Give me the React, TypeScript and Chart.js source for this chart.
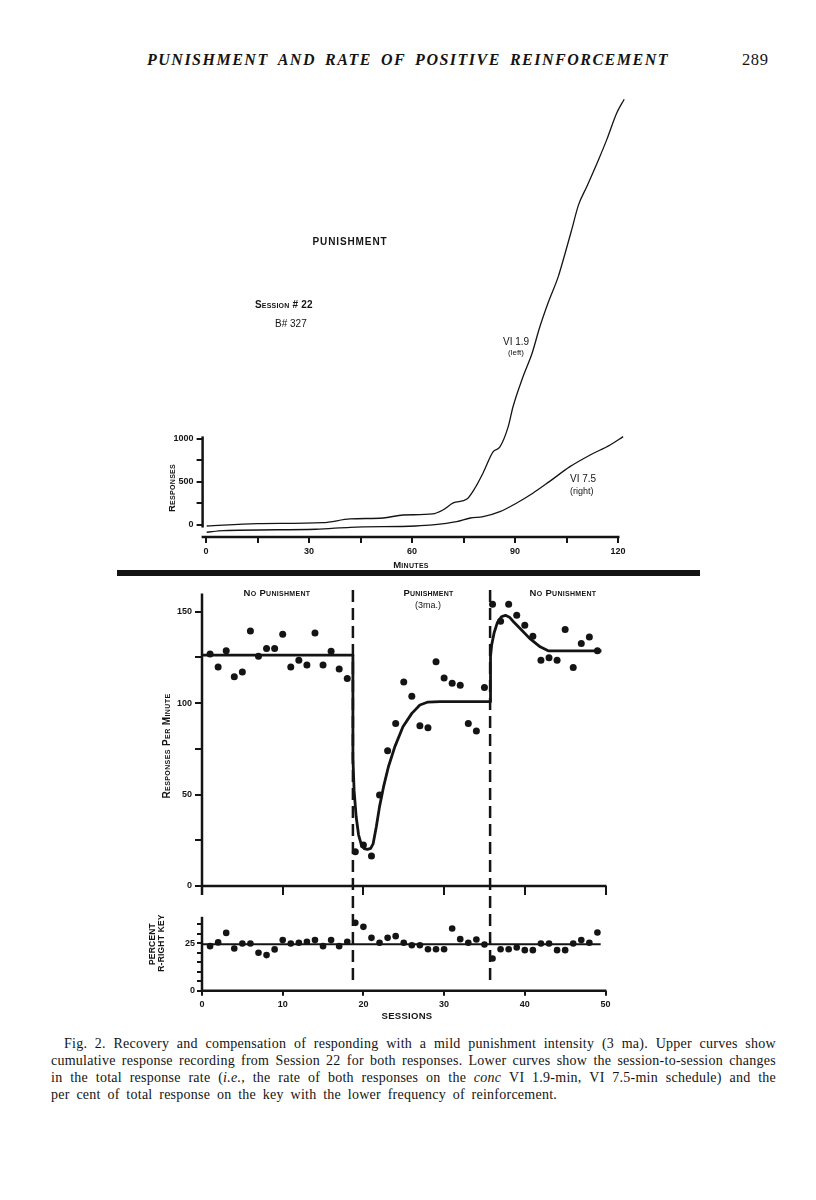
import React, { useEffect, useRef } from "react";
import { Chart, registerables } from "chart.js";

Chart.register(...registerables);

// ---------- Upper panel: cumulative record, Session 22 ----------
const minutesVI19 = [0.2, 14.8, 34, 42, 51.6, 57.4, 66, 69, 72, 76, 78, 80.7, 83.6, 85.6, 88, 89.4, 92.3, 95, 97.1, 99.7, 102.6, 104.6, 106.5, 108.5, 110.9, 114.3, 116.7, 119.6, 121.8];
const responsesVI19 = [-12, 15, 27, 70, 81, 116, 128, 174, 256, 302, 407, 605, 849, 907, 1140, 1372, 1721, 2000, 2288, 2590, 2888, 3160, 3431, 3722, 3934, 4245, 4478, 4788, 4951];
const minutesVI75 = [0.2, 5, 32, 42, 61, 66, 73, 77, 80.7, 85.6, 90.5, 95.3, 100, 106, 111.9, 117.7, 121.5];
const responsesVI75 = [-85, -66, -50, -27, -12, 0, 38, 81, 97, 155, 256, 372, 504, 678, 814, 930, 1027];
const minuteTicks = [0, 15, 30, 45, 60, 75, 90, 105, 120];
const minuteTickLabels = [0, 30, 60, 90, 120];
const responseTicks = [0, 250, 500, 750, 1000];
const responseTickLabels = [0, 500, 1000];

// ---------- Middle panel: responses per minute by session ----------
const sessions = [1, 2, 3, 4, 5, 6, 7, 8, 9, 10, 11, 12, 13, 14, 15, 16, 17, 18, 19, 20, 21, 22, 23, 24, 25, 26, 27, 28, 29, 30, 31, 32, 33, 34, 35, 36, 37, 38, 39, 40, 41, 42, 43, 44, 45, 46, 47, 48, 49];
const responsesPerMinute = [126.8, 119.8, 128.6, 114.4, 117, 139.5, 125.7, 129.9, 129.9, 137.7, 119.8, 123.5, 120.8, 138.4, 120.8, 128.4, 118.7, 113.5, 18.7, 22.4, 16.4, 49.7, 73.9, 88.9, 111.6, 103.8, 87.6, 86.5, 122.6, 113.8, 110.8, 109.8, 88.9, 84.7, 108.6, 154.1, 144.8, 154.1, 148.1, 142.6, 136.6, 123.5, 124.8, 123.5, 140.3, 119.5, 132.6, 136.2, 128.6];
const rateFitSessions = [0, 18.7, 18.7, 18.85, 19.1, 19.4, 19.75, 20.1, 20.5, 20.9, 21.2, 21.6, 22.0, 22.5, 23.1, 23.9, 24.9, 26.0, 27.0, 28.0, 29.5, 35.7, 35.75, 35.9, 36.2, 36.6, 37.1, 37.6, 38.1, 38.6, 39.6, 40.6, 41.9, 42.9, 49.5];
const rateFitValues = [126.3, 126.3, 70, 52, 38, 28, 22.5, 20.4, 20, 20.6, 23, 32.4, 43.4, 54.3, 65.2, 76.2, 87.1, 94.4, 99, 100.6, 100.8, 100.8, 125.4, 132, 138.5, 144, 147.2, 148, 147, 144.5, 140, 135.4, 130.8, 128.6, 128.6];
const rateTicks = [0, 25, 50, 75, 100, 125, 150];
const rateTickLabels = [0, 50, 100, 150];
const sessionTicks = [0, 10, 20, 30, 40, 50];
const phaseBoundaries = [18.7, 35.7];

// ---------- Lower panel: percent of responses on right key ----------
const percentRightKey = [23.5, 25.5, 30.5, 22.3, 24.9, 24.9, 20, 18.8, 21.8, 26.7, 24.9, 25.3, 25.8, 26.7, 23.5, 26.7, 23.5, 25.8, 35.8, 33.7, 27.9, 25.3, 27.9, 28.8, 25.3, 24, 24, 21.9, 21.9, 21.9, 32.8, 27.2, 25.3, 27, 24.4, 17, 21.9, 21.9, 22.8, 21.4, 21.4, 24.9, 24.9, 21.4, 21.4, 24.9, 26.7, 25.3, 30.7];
const percentFitSessions = [0, 49.4];
const percentFitValues = [24.5, 24.5];
const percentTicks = [0, 5, 10, 15, 20, 25, 30, 35];
const percentTickLabels = [0, 25];

// ---------- styling ----------
const INK = "#141414";
const SANS = "'Liberation Sans', Arial, Helvetica, sans-serif";
const SERIF = "'Liberation Serif', 'DejaVu Serif', serif";
const HEAD_SERIF = "'Liberation Serif', 'DejaVu Serif', serif";
const tickFont = { family: SANS, size: 9, weight: "bold" as const };

const toXY = (xs: number[], ys: number[]) => xs.map((x, i) => ({ x, y: ys[i] }));

type AxisSpec = { min: number; max: number; ticks: number[]; labels: number[]; tickLength: number; padding: number; size: number };

function linearAxis(spec: AxisSpec, horizontal: boolean) {
  return {
    type: "linear",
    min: spec.min,
    max: spec.max,
    afterBuildTicks: (scale: any) => {
      scale.ticks = spec.ticks.map((v) => ({ value: v }));
    },
    afterFit: (scale: any) => {
      if (horizontal) scale.height = spec.size;
      else scale.width = spec.size;
    },
    grid: { display: true, drawOnChartArea: false, drawTicks: true, tickLength: spec.tickLength, color: INK, lineWidth: 2 },
    border: { display: false },
    ticks: {
      autoSkip: false,
      maxRotation: 0,
      minRotation: 0,
      padding: spec.padding,
      color: INK,
      font: tickFont,
      callback: (v: number) => (spec.labels.includes(v) ? String(v) : ""),
    },
  };
}

function baseOptions(x: AxisSpec, y: AxisSpec, padTop: number, padRight: number) {
  return {
    responsive: false,
    maintainAspectRatio: false,
    animation: false,
    events: [],
    layout: { padding: { top: padTop, right: padRight, left: 0, bottom: 0 } },
    plugins: { legend: { display: false }, tooltip: { enabled: false }, title: { display: false } },
    scales: { x: linearAxis(x, true), y: linearAxis(y, false) },
  };
}

function stroke(ctx: CanvasRenderingContext2D, x1: number, y1: number, x2: number, y2: number, w: number, dash?: number[], offset = 0) {
  ctx.save();
  ctx.strokeStyle = INK;
  ctx.lineWidth = w;
  ctx.lineCap = "butt";
  if (dash) {
    ctx.setLineDash(dash);
    ctx.lineDashOffset = offset;
  }
  ctx.beginPath();
  ctx.moveTo(x1, y1);
  ctx.lineTo(x2, y2);
  ctx.stroke();
  ctx.restore();
}

const DASH = [12, 6];

// ---------- chart configs ----------
const TOP = { left: 130, top: 60, width: 520, height: 520 };
const MID = { left: 130, top: 575, width: 500, height: 340 };
const BOT = { left: 130, top: 900, width: 500, height: 130 };

function topConfig(): any {
  return {
    type: "scatter",
    data: {
      datasets: [
        { data: toXY(minutesVI19, responsesVI19), showLine: true, borderColor: INK, borderWidth: 1.3, pointRadius: 0, cubicInterpolationMode: "monotone", clip: false },
        { data: toXY(minutesVI75, responsesVI75), showLine: true, borderColor: INK, borderWidth: 1.3, pointRadius: 0, cubicInterpolationMode: "monotone", clip: false },
      ],
    },
    options: baseOptions(
      { min: -1, max: 123, ticks: minuteTicks, labels: minuteTickLabels, tickLength: 6, padding: 3, size: 43 },
      { min: -140, max: 5200, ticks: responseTicks, labels: responseTickLabels, tickLength: 6, padding: 3, size: 72.6 },
      17.8,
      21.7
    ),
    plugins: [
      {
        id: "topAxes",
        afterDatasetsDraw(chart: any) {
          const ctx = chart.ctx;
          const { left, bottom } = chart.chartArea;
          const xs = chart.scales.x, ys = chart.scales.y;
          stroke(ctx, left, ys.getPixelForValue(1030), left, ys.getPixelForValue(-30), 2.5);
          stroke(ctx, left - 1, bottom, xs.getPixelForValue(120) + 1.5, bottom, 2.5);
        },
      },
    ],
  };
}

function midConfig(): any {
  return {
    type: "scatter",
    data: {
      datasets: [
        { data: toXY(sessions, responsesPerMinute), showLine: false, pointRadius: 3.5, pointBackgroundColor: INK, pointBorderWidth: 0, clip: false },
        { data: toXY(rateFitSessions, rateFitValues), showLine: true, borderColor: INK, borderWidth: 2.8, borderJoinStyle: "round", pointRadius: 0, tension: 0, clip: false },
      ],
    },
    options: baseOptions(
      { min: 0, max: 50, ticks: sessionTicks, labels: [], tickLength: 9, padding: 2, size: 29 },
      { min: 0, max: 160, ticks: rateTicks, labels: rateTickLabels, tickLength: 7, padding: 3, size: 72 },
      18.4,
      24.5
    ),
    plugins: [
      {
        id: "midAxes",
        beforeDatasetsDraw(chart: any) {
          const ctx = chart.ctx;
          const xs = chart.scales.x;
          phaseBoundaries.forEach((s) => {
            const px = xs.getPixelForValue(s);
            stroke(ctx, px, 590 - MID.top, px, 905 - MID.top, 2.5, DASH, 0);
          });
        },
        afterDatasetsDraw(chart: any) {
          const ctx = chart.ctx;
          const { left, top, bottom } = chart.chartArea;
          const xs = chart.scales.x;
          stroke(ctx, left, top, left, bottom + 9, 2.5);
          stroke(ctx, left - 1, bottom, xs.getPixelForValue(50) + 1, bottom, 2.5);
        },
      },
    ],
  };
}

function botConfig(): any {
  return {
    type: "scatter",
    data: {
      datasets: [
        { data: toXY(sessions, percentRightKey), showLine: false, pointRadius: 3.3, pointBackgroundColor: INK, pointBorderWidth: 0, clip: false },
        { data: toXY(percentFitSessions, percentFitValues), showLine: true, borderColor: INK, borderWidth: 2, pointRadius: 0, tension: 0, clip: false },
      ],
    },
    options: baseOptions(
      { min: 0, max: 50, ticks: sessionTicks, labels: sessionTicks, tickLength: 5, padding: 3, size: 39.3 },
      { min: 0, max: 39, ticks: percentTicks, labels: percentTickLabels, tickLength: 5, padding: 2, size: 72 },
      16.8,
      24.5
    ),
    plugins: [
      {
        id: "botAxes",
        beforeDatasetsDraw(chart: any) {
          const ctx = chart.ctx;
          const xs = chart.scales.x;
          phaseBoundaries.forEach((s) => {
            const px = xs.getPixelForValue(s);
            stroke(ctx, px, 905 - BOT.top, px, 980 - BOT.top, 2.5, DASH, 315);
          });
        },
        afterDatasetsDraw(chart: any) {
          const ctx = chart.ctx;
          const { left, top, bottom } = chart.chartArea;
          const xs = chart.scales.x;
          stroke(ctx, left, top, left, bottom, 2.5);
          stroke(ctx, left - 1, bottom, xs.getPixelForValue(50) + 1, bottom, 2.5);
        },
      },
    ],
  };
}

function ChartCanvas({ box, build }: { box: { left: number; top: number; width: number; height: number }; build: () => any }) {
  const ref = useRef<HTMLCanvasElement>(null);
  useEffect(() => {
    const chart = new Chart(ref.current as HTMLCanvasElement, build());
    return () => chart.destroy();
  }, []);
  return (
    <canvas
      ref={ref}
      width={box.width}
      height={box.height}
      style={{ position: "absolute", left: box.left, top: box.top, width: box.width, height: box.height }}
    />
  );
}

type LabelProps = {
  x: number;
  y: number;
  size?: number;
  weight?: number;
  sc?: boolean;
  rotate?: number;
  align?: "left" | "center" | "right";
  spacing?: number;
  family?: string;
  children: React.ReactNode;
};

function Label({ x, y, size = 10, weight = 700, sc = false, rotate = 0, align = "center", spacing = 0, family = SANS, children }: LabelProps) {
  const tx = align === "center" ? "-50%" : align === "right" ? "-100%" : "0";
  return (
    <div
      style={{
        position: "absolute",
        left: x,
        top: y,
        transform: `translate(${tx}, -50%) rotate(${rotate}deg)`,
        whiteSpace: "nowrap",
        fontSize: size,
        fontWeight: weight,
        fontVariant: sc ? "small-caps" : "normal",
        fontFamily: family,
        letterSpacing: spacing,
        lineHeight: 1,
        color: INK,
      }}
    >
      {children}
    </div>
  );
}

const CAPTION_SIZE = 14;
const CAPTION_SPACING = 0.25;

function JustifiedLine({ left, center, width, words }: { left: number; center: number; width: number; words: React.ReactNode[] }) {
  return (
    <div
      style={{
        position: "absolute",
        left,
        top: center - 8,
        width,
        height: 16,
        display: "flex",
        justifyContent: "space-between",
        fontFamily: SERIF,
        fontSize: CAPTION_SIZE,
        letterSpacing: CAPTION_SPACING,
        lineHeight: "16px",
        whiteSpace: "nowrap",
        color: INK,
      }}
    >
      {words.map((w, i) => (
        <span key={i}>{w}</span>
      ))}
    </div>
  );
}

const captionLine1 = "Fig. 2. Recovery and compensation of responding with a mild punishment intensity (3 ma). Upper curves show".split(" ");
const captionLine2 = "cumulative response recording from Session 22 for both responses. Lower curves show the session-to-session changes".split(" ");
const captionLine3: React.ReactNode[] = [
  "in", "the", "total", "response", "rate",
  <>(<i>i.e.</i>,</>,
  "the", "rate", "of", "both", "responses", "on", "the",
  <i>conc</i>,
  "VI", "1.9-min,", "VI", "7.5-min", "schedule)", "and", "the",
];
const captionLine4 = "per cent of total response on the key with the lower frequency of reinforcement.";
const headerWords = "PUNISHMENT AND RATE OF POSITIVE REINFORCEMENT".split(" ");

export default function App() {
  return (
    <div style={{ position: "absolute", left: 0, top: 0, width: 816, height: 1200, background: "#fff", overflow: "hidden" }}>
      {/* running header */}
      <div
        style={{
          position: "absolute",
          left: 147,
          top: 51,
          width: 522,
          display: "flex",
          justifyContent: "space-between",
          fontFamily: HEAD_SERIF,
          fontStyle: "italic",
          fontWeight: 700,
          fontSize: 16,
          letterSpacing: 1.5,
          lineHeight: "18px",
          whiteSpace: "nowrap",
          color: INK,
        }}
      >
        {headerWords.map((w, i) => (
          <span key={i}>{w}</span>
        ))}
      </div>
      <Label x={742} y={60} size={16.5} weight={400} family={HEAD_SERIF} align="left" spacing={0.6}>
        289
      </Label>

      <ChartCanvas box={TOP} build={topConfig} />
      <ChartCanvas box={MID} build={midConfig} />
      <ChartCanvas box={BOT} build={botConfig} />

      {/* upper panel annotations */}
      <Label x={350} y={241.5} size={10} spacing={0.9}>PUNISHMENT</Label>
      <Label x={255} y={305} size={10} sc align="left" spacing={0.2}>Session # 22</Label>
      <Label x={275} y={324} size={10} align="left" weight={400}>B# 327</Label>
      <Label x={503} y={341.5} size={10} weight={400} align="left">VI 1.9</Label>
      <Label x={508} y={352.5} size={8} weight={400} align="left">(left)</Label>
      <Label x={570} y={479} size={10} weight={400} align="left">VI 7.5</Label>
      <Label x={570} y={491} size={9} weight={400} align="left">(right)</Label>
      <Label x={172} y={488} size={9.5} sc rotate={-90} spacing={0.3}>Responses</Label>
      <Label x={411} y={565} size={9.5} sc spacing={0.3}>Minutes</Label>

      {/* heavy separator rule */}
      <div style={{ position: "absolute", left: 117, top: 570, width: 583, height: 6, background: INK }} />

      {/* middle panel annotations */}
      <Label x={277} y={593} size={9.5} sc spacing={0.3}>No Punishment</Label>
      <Label x={428.5} y={593} size={9.5} sc spacing={0.2}>Punishment</Label>
      <Label x={428} y={605} size={9} weight={400}>(3ma.)</Label>
      <Label x={563} y={593} size={9.5} sc spacing={0.3}>No Punishment</Label>
      <Label x={167} y={746} size={10} sc rotate={-90} spacing={0.4}>Responses Per Minute</Label>

      {/* lower panel annotations */}
      <Label x={151.5} y={944} size={8.5} rotate={-90} spacing={0.2}>PERCENT</Label>
      <Label x={161} y={943} size={8.5} rotate={-90} spacing={0.2}>R-RIGHT KEY</Label>
      <Label x={407} y={1016} size={9.5} spacing={0.3}>SESSIONS</Label>

      {/* caption */}
      <JustifiedLine left={64} center={1044} width={712} words={captionLine1} />
      <JustifiedLine left={51} center={1061} width={725} words={captionLine2} />
      <JustifiedLine left={51} center={1078} width={725} words={captionLine3} />
      <div
        style={{
          position: "absolute",
          left: 51,
          top: 1095 - 8,
          fontFamily: SERIF,
          fontSize: CAPTION_SIZE,
          letterSpacing: CAPTION_SPACING,
          lineHeight: "16px",
          whiteSpace: "nowrap",
          color: INK,
          wordSpacing: 3,
        }}
      >
        {captionLine4}
      </div>
    </div>
  );
}
